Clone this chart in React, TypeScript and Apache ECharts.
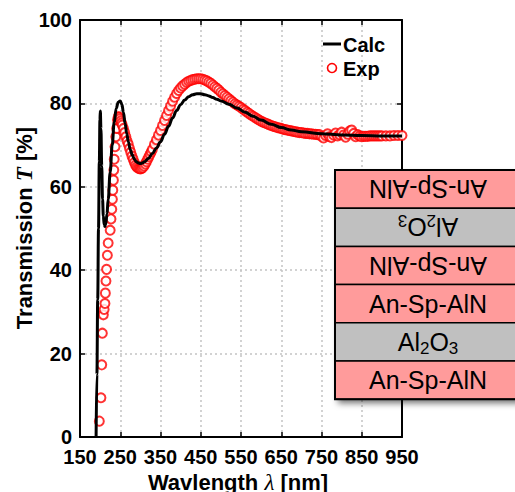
import React, { useEffect, useRef } from 'react';
import * as echarts from 'echarts';

// Calculated transmission (black line)
const calcWavelength = [
  190, 192, 194, 196, 198, 199.5, 200.5, 202, 204, 206, 208, 210, 212, 214, 217, 220, 225, 230, 235, 240,
  245, 250, 254, 258, 262, 266, 270, 275, 280, 285, 290, 295, 300, 305, 310, 320, 330, 340, 350, 360,
  370, 380, 390, 400, 410, 420, 430, 440, 450, 460, 470, 480, 490, 500, 520, 540, 560, 580, 600, 625,
  650, 675, 700, 750, 800, 850, 900, 950,
];
const calcT = [
  0, 15, 33, 50, 66, 76, 78.2, 74, 65, 57, 53, 51, 50.5, 51, 53.5, 57, 63.5, 70, 75.5, 78.8,
  80.3, 80.6, 79.8, 77.8, 75.2, 72.8, 70.8, 68.9, 67.6, 66.6, 66, 65.7, 65.6, 65.7, 66, 66.8, 68, 69.3, 70.8, 72.6,
  74.5, 76.5, 78.3, 79.7, 80.8, 81.6, 82.1, 82.3, 82.3, 82.1, 81.8, 81.4, 81, 80.6, 79.8, 78.9, 77.9, 76.9, 76, 75,
  74.2, 73.6, 73.2, 72.7, 72.45, 72.3, 72.2, 72.2,
];

// Measured transmission (red circles)
const expWavelength = [
  198, 202, 204, 205.5, 208, 210, 212, 213, 214.5, 216, 218, 220, 225, 227, 229, 230.5, 231.5, 233, 234, 235,
  237, 239, 241, 243, 245, 247, 249, 251, 253, 255, 258, 261, 264, 267, 270, 273, 276, 279, 282, 285,
  288, 291, 294, 297, 300, 303, 306, 309, 312, 315, 318, 321, 324, 327, 330, 335, 340, 345, 350, 355,
  360, 365, 370, 375, 380, 385, 390, 395, 400, 405, 410, 415, 420, 425, 430, 435, 440, 445, 450, 455,
  460, 465, 470, 475, 480, 485, 490, 495, 500, 505, 510, 515, 520, 525, 530, 535, 540, 545, 550, 555,
  560, 565, 570, 575, 580, 585, 590, 595, 600, 605, 610, 615, 620, 625, 630, 635, 640, 645, 650, 655,
  660, 665, 670, 675, 680, 685, 690, 695, 700, 705, 710, 715, 720, 725, 730, 735, 740, 745, 750, 755,
  760, 765, 770, 775, 780, 785, 790, 795, 800, 805, 810, 815, 820, 825, 830, 835, 840, 845, 850, 855,
  860, 865, 870, 875, 880, 885, 890, 895, 900, 910, 920, 930, 940, 950,
];
const expT = [
  3.8, 9.4, 17.3, 24.9, 29.3, 30.6, 32, 34.5, 37.4, 40.2, 43.6, 46.5, 49.6, 52.3, 54.6, 57, 59.2, 61.6, 64, 66.6,
  69.6, 72, 74, 76, 76.8, 76.7, 76.3, 75.8, 75.3, 74.8, 74, 73, 72, 71, 70.2, 69.2, 68.3, 67.4, 66.6, 65.8,
  65.2, 64.8, 64.5, 64.4, 64.3, 64.4, 64.6, 65, 65.5, 66, 66.6, 67.2, 67.8, 68.4, 69, 70.2, 71.3, 72.4, 73.5, 74.7,
  75.9, 77.1, 78.3, 79.4, 80.5, 81.5, 82.4, 83.1, 83.7, 84.2, 84.6, 85, 85.3, 85.5, 85.7, 85.8, 85.9, 85.9, 85.9, 85.8,
  85.6, 85.4, 85.1, 84.8, 84.4, 84, 83.6, 83.2, 82.7, 82.3, 81.9, 81.5, 81.1, 80.7, 80.3, 79.9, 79.6, 79.3, 79, 78.6,
  78.3, 77.9, 77.6, 77.2, 76.9, 76.6, 76.3, 76, 75.7, 75.5, 75.3, 75.1, 74.9, 74.7, 74.5, 74.4, 74.2, 74.1, 74, 73.8,
  73.7, 73.6, 73.5, 73.4, 73.3, 73.2, 73.1, 73, 73, 72.9, 72.8, 72.8, 72.7, 72.7, 72.6, 72.6, 72.5, 72.5, 72.1, 71.7,
  72.3, 72.7, 72, 71.8, 72.4, 72.9, 72.2, 72.5, 73.1, 72.4, 71.9, 72.6, 73.4, 73.6, 72.8, 72, 72.5, 72.2, 72, 72.1,
  72.1, 72.1, 72.2, 72.2, 72.2, 72.2, 72.2, 72.2, 72.2, 72.2, 72.2, 72.3, 72.3, 72.3,
];

// Layer stack (top to bottom); flipped = text drawn upside down
const layerLabels = ['An-Sp-AlN', 'Al2O3', 'An-Sp-AlN', 'An-Sp-AlN', 'Al2O3', 'An-Sp-AlN'];
const layerFlipped = [true, true, true, false, false, false];

const SANS = '"Liberation Sans", Arial, Helvetica, sans-serif';
const SERIF = '"Liberation Serif", "Times New Roman", serif';

export default function App() {
  const ref = useRef<HTMLDivElement>(null);

  useEffect(() => {
    if (!ref.current) return;
    const chart = echarts.init(ref.current, null, { renderer: 'svg' });

    const calcData = calcWavelength.map((w, i) => [w, calcT[i]]);
    const expData = expWavelength.map((w, i) => [w, expT[i]]);

    const axisLine = { show: true, onZero: false, lineStyle: { color: '#000', width: 2 } };
    const axisTick = { show: true, inside: true, length: 5, lineStyle: { color: '#000', width: 1.5 } };
    const splitLine = { show: true, lineStyle: { color: '#c4c4c4', width: 1.5, type: [2, 3] as any } };
    const tickLabel = { color: '#000', fontSize: 20, fontWeight: 'bold' as const, fontFamily: SANS };

    const boxX = 335;
    const boxY = 170;
    const boxW = 190;
    const rowH = 38.2;

    const layerElements: any[] = [];
    layerElements.push({
      type: 'rect',
      shape: { x: boxX, y: boxY, width: boxW, height: rowH * layerLabels.length },
      style: { fill: '#888', shadowBlur: 6, shadowColor: 'rgba(0,0,0,0.55)', shadowOffsetX: 3, shadowOffsetY: 4 },
      z: 100,
    });
    layerLabels.forEach((label, i) => {
      const isOxide = label === 'Al2O3';
      const y0 = boxY + i * rowH;
      layerElements.push({
        type: 'rect',
        shape: { x: boxX, y: y0, width: boxW, height: rowH },
        style: { fill: isOxide ? '#c0c0c0' : '#ff9b9b', stroke: '#000', lineWidth: 1.5 },
        z: 101,
      });
      layerElements.push({
        type: 'text',
        x: 428,
        y: y0 + rowH / 2,
        rotation: layerFlipped[i] ? Math.PI : 0,
        z: 102,
        style: {
          text: isOxide ? '{n|Al}{s|2}{n|O}{s|3}' : label,
          fontSize: 25,
          fontFamily: SANS,
          fill: '#000',
          align: 'center',
          verticalAlign: 'middle',
          rich: {
            n: { fontSize: 25, fontFamily: SANS, fill: '#000', lineHeight: 30 },
            s: { fontSize: 17, fontFamily: SANS, fill: '#000', lineHeight: 14, verticalAlign: 'bottom' },
          },
        },
      });
    });
    layerElements.push({
      type: 'rect',
      shape: { x: boxX, y: boxY, width: boxW, height: rowH * layerLabels.length },
      style: { fill: 'none', stroke: '#000', lineWidth: 2 },
      z: 103,
    });

    chart.setOption({
      animation: false,
      backgroundColor: '#fff',
      grid: { left: 80, right: 113, top: 20, bottom: 55, containLabel: false },
      xAxis: [
        {
          type: 'value', min: 150, max: 950, interval: 100, position: 'bottom',
          axisLine, axisTick, splitLine,
          axisLabel: { ...tickLabel, margin: 10 },
        },
        {
          type: 'value', min: 150, max: 950, interval: 100, position: 'top',
          axisLine, axisTick, splitLine: { show: false }, axisLabel: { show: false },
        },
      ],
      yAxis: [
        {
          type: 'value', min: 0, max: 100, interval: 20, position: 'left',
          axisLine, axisTick, splitLine,
          axisLabel: { ...tickLabel, margin: 8 },
        },
        {
          type: 'value', min: 0, max: 100, interval: 20, position: 'right',
          axisLine, axisTick, splitLine: { show: false }, axisLabel: { show: false },
        },
      ],
      series: [
        {
          name: 'Exp',
          type: 'scatter',
          data: expData,
          symbol: 'emptyCircle',
          symbolSize: 9,
          itemStyle: { color: '#ff0000', borderColor: '#ff0000', borderWidth: 1.6 },
          z: 2,
        },
        {
          name: 'Calc',
          type: 'line',
          data: calcData,
          showSymbol: false,
          symbol: 'none',
          smooth: 0.4,
          smoothMonotone: 'x',
          lineStyle: { color: '#000', width: 3 },
          z: 3,
        },
      ],
      graphic: [
        // legend
        { type: 'line', shape: { x1: 323, y1: 44, x2: 341, y2: 44 }, style: { stroke: '#000', lineWidth: 3 }, z: 50 },
        {
          type: 'text', x: 343, y: 45, z: 50,
          style: { text: 'Calc', fontSize: 20, fontWeight: 'bold', fontFamily: SANS, fill: '#000', align: 'left', verticalAlign: 'middle' },
        },
        { type: 'circle', shape: { cx: 332, cy: 68, r: 4.5 }, style: { fill: '#fff', stroke: '#ff0000', lineWidth: 1.6 }, z: 50 },
        {
          type: 'text', x: 343, y: 69, z: 50,
          style: { text: 'Exp', fontSize: 20, fontWeight: 'bold', fontFamily: SANS, fill: '#000', align: 'left', verticalAlign: 'middle' },
        },
        // axis titles
        {
          type: 'text', x: 24, y: 228, rotation: Math.PI / 2, z: 50,
          style: {
            text: '{b|Transmission }{i|T}{b| [%]}',
            align: 'center', verticalAlign: 'middle',
            rich: {
              b: { fontSize: 22, fontWeight: 'bold', fontFamily: SANS, fill: '#000' },
              i: { fontSize: 23, fontWeight: 'bold', fontStyle: 'italic', fontFamily: SERIF, fill: '#000' },
            },
          },
        },
        {
          type: 'text', x: 238, y: 482, z: 50,
          style: {
            text: '{b|Wavlength }{i|λ}{b| [nm]}',
            align: 'center', verticalAlign: 'middle',
            rich: {
              b: { fontSize: 22, fontWeight: 'bold', fontFamily: SANS, fill: '#000' },
              i: { fontSize: 23, fontStyle: 'italic', fontFamily: SERIF, fill: '#000' },
            },
          },
        },
        ...layerElements,
      ],
    });

    return () => chart.dispose();
  }, []);

  return <div ref={ref} style={{ position: 'fixed', left: 0, top: 0, width: 515, height: 492 }} />;
}
